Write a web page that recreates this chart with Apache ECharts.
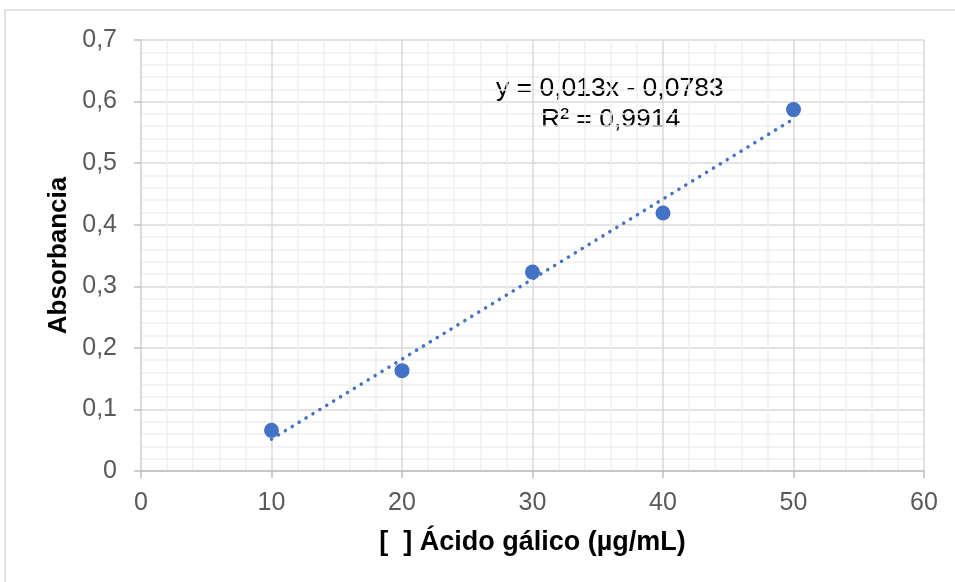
<!DOCTYPE html>
<html>
<head>
<meta charset="utf-8">
<script src="https://cdn.jsdelivr.net/npm/echarts@6/dist/echarts.min.js"></script>
<style>
  html, body { margin: 0; padding: 0; background: #fff; }
  #chart { width: 955px; height: 582px; }
</style>
</head>
<body>
<div id="chart"></div>
<script>
// concentración de ácido gálico (µg/mL) y absorbancia
const concentracion = [10, 20, 30, 40, 50]
const absorbancia = [0.066, 0.163, 0.323, 0.419, 0.587]

// línea de tendencia (valores de la ecuación mostrada)
const pendiente = 0.013
const intercepto = -0.0783
const r2 = '0,9914'
const tendenciaX = [10, 50]

const coma = v => String(v).replace('.', ',')

const chart = echarts.init(document.getElementById('chart'))

const font = '"Liberation Sans", Arial, sans-serif'
const option = {
  animation: false,
  grid: { left: 141, right: 31, top: 40, bottom: 111 },
  xAxis: {
    type: 'value',
    min: 0, max: 60, interval: 10,
    name: '[  ] Ácido gálico (µg/mL)',
    nameLocation: 'middle',
    nameGap: 58,
    nameTextStyle: { fontFamily: font, fontSize: 27, fontWeight: 'bold', color: '#000' },
    axisLine: { show: true, onZero: false, lineStyle: { color: '#bfbfbf', width: 1.5 } },
    axisTick: { show: true, length: 7, lineStyle: { color: '#bfbfbf', width: 1.5 } },
    axisLabel: { fontFamily: font, fontSize: 25, color: '#595959', margin: 20 },
    splitLine: { show: true, lineStyle: { color: '#d9d9d9', width: 1.5 } },
    minorTick: { show: false, splitNumber: 5 },
    minorSplitLine: { show: true, lineStyle: { color: '#efefef', width: 1.5 } }
  },
  yAxis: {
    type: 'value',
    min: 0, max: 0.7, interval: 0.1,
    name: 'Absorbancia',
    nameLocation: 'middle',
    nameGap: 66,
    nameTextStyle: { fontFamily: font, fontSize: 26, fontWeight: 'bold', color: '#000' },
    axisLine: { show: true, lineStyle: { color: '#d9d9d9', width: 1.5 } },
    axisTick: { show: true, length: 7, lineStyle: { color: '#bfbfbf', width: 1.5 } },
    axisLabel: { fontFamily: font, fontSize: 25, color: '#595959', margin: 24,
      formatter: v => coma(Math.round(v * 10) / 10) },
    splitLine: { show: true, lineStyle: { color: '#d9d9d9', width: 1.5 } },
    minorTick: { show: false, splitNumber: 5 },
    minorSplitLine: { show: true, lineStyle: { color: '#efefef', width: 1.5 } }
  },
  series: [
    {
      name: 'Lineal',
      type: 'line',
      data: tendenciaX.map(x => [x, pendiente * x + intercepto]),
      showSymbol: false,
      symbol: 'none',
      lineStyle: { color: '#4472c4', width: 3.5, type: [0.1, 8], cap: 'round' },
      z: 2
    },
    {
      name: 'Absorbancia',
      type: 'scatter',
      data: concentracion.map((x, i) => [x, absorbancia[i]]),
      symbolSize: 15,
      itemStyle: { color: '#4472c4', opacity: 1 },
      z: 3
    }
  ],
  graphic: [
    {
      type: 'rect',
      shape: { x: 5, y: 10, width: 960, height: 600 },
      style: { fill: 'none', stroke: '#d9d9d9', lineWidth: 1.5 },
      silent: true
    },
    {
      type: 'text',
      left: 496, top: 75,
      style: { text: 'y = ' + coma(pendiente) + 'x - ' + coma(-intercepto),
        font: '26.5px ' + font, fill: '#000' }
    },
    {
      type: 'text',
      left: 541, top: 106,
      style: { text: 'R² = ' + r2, font: '26.5px ' + font, fill: '#000' }
    }
  ]
}
chart.setOption(option)
</script>
</body>
</html>
